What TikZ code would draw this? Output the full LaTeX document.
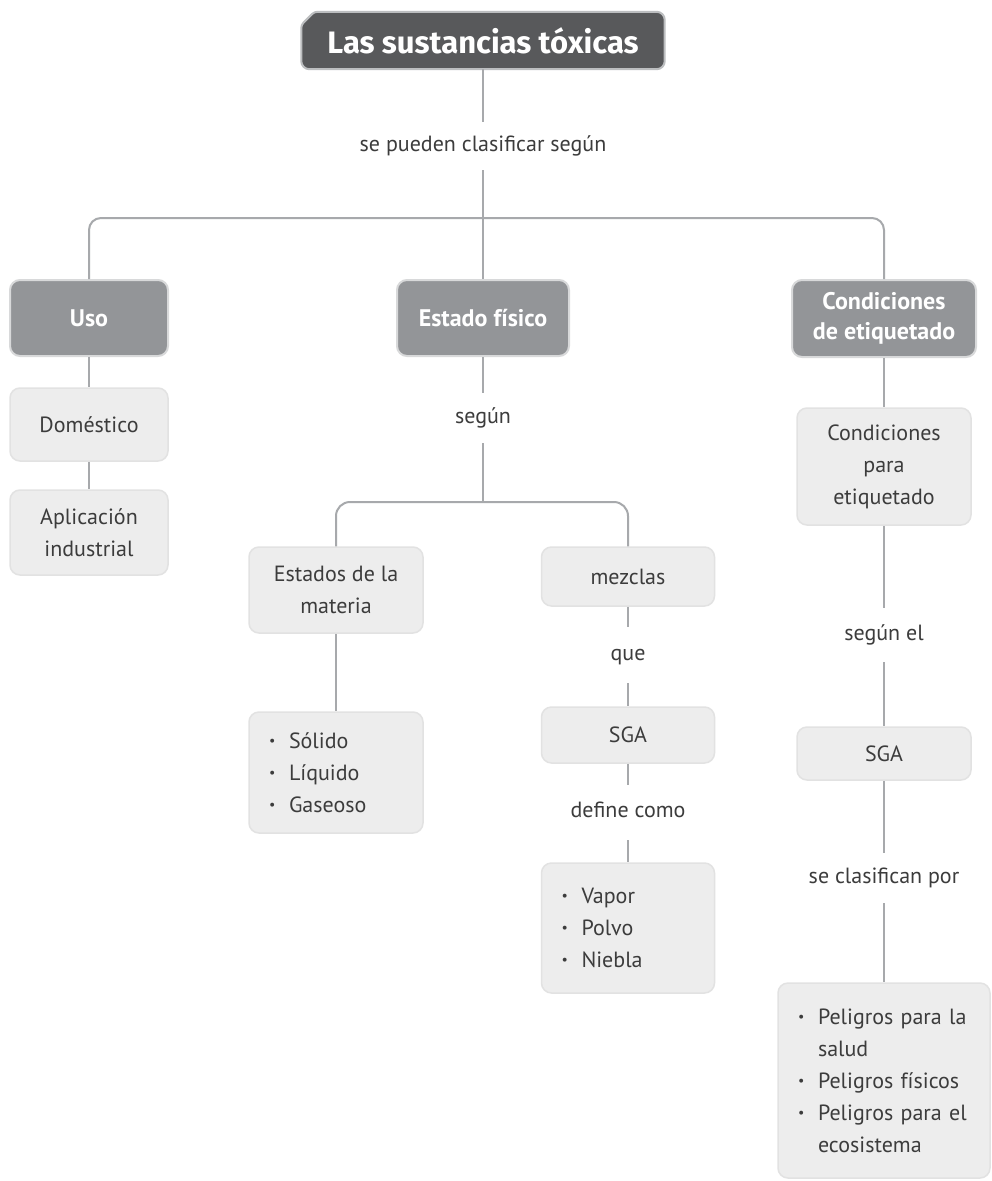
\documentclass[tikz,border=0pt]{standalone}
\usepackage{fontspec}
\setmainfont{PT Sans}
\newfontfamily\titlefont{Fira Sans}
\usetikzlibrary{backgrounds}
\definecolor{titlefill}{HTML}{58595B}
\definecolor{titleline}{HTML}{BCBEC0}
\definecolor{catfill}{HTML}{939598}
\definecolor{catline}{HTML}{D8D9DA}
\definecolor{leaffill}{HTML}{EDEDED}
\definecolor{leafline}{HTML}{E2E2E2}
\definecolor{conncol}{HTML}{A7A9AC}
\definecolor{txt}{HTML}{3C3C3C}
\newcommand\bitem[1]{\makebox[20pt][l]{\raisebox{.12em}{\fontsize{14}{14}\selectfont •}}#1}
\begin{document}
\begin{tikzpicture}[x=1pt,y=-1pt,
  cat/.style={draw=catline, line width=2pt, fill=catfill, rounded corners=10pt, text=white,
    font=\fontsize{24}{30}\selectfont\bfseries, align=center, inner sep=0pt},
  leaf/.style={draw=leafline, line width=1.5pt, fill=leaffill, rounded corners=10pt, text=txt,
    font=\fontsize{22}{32}\selectfont, align=center, inner sep=0pt},
  listbox/.style={leaf, align=left, inner xsep=20pt, inner ysep=0pt},
  lbl/.style={text=txt, font=\fontsize{22}{32}\selectfont, inner sep=0pt, text height=12pt, text depth=2pt},
  conn/.style={draw=conncol, line width=2pt},
  thinconn/.style={draw=conncol, line width=1.2pt}]
\useasboundingbox (0,0) rectangle (991,1181);

% title
\node[font=\titlefont\fontsize{31}{31}\selectfont\bfseries, text=white,
  minimum width=363pt, minimum height=57pt, inner sep=0pt] (title) at (483,40.5) {Las sustancias tóxicas};
\begin{pgfonlayer}{background}
\fill[white] (0,0) rectangle (991,1181);
\filldraw[fill=titlefill, draw=titleline, line width=2pt]
  (title.west) [rounded corners=3pt] -- ([yshift=-13pt]title.north west) -- ([xshift=13pt]title.north west)
  [rounded corners=8pt] -- (title.north east) -- (title.south east) -- (title.south west) -- cycle;
\end{pgfonlayer}

\node[lbl, minimum height=48pt] (l1) at (483,146) {se pueden clasificar según};

% categories
\node[cat, minimum width=158pt, minimum height=76pt] (uso) at (89,318) {Uso};
\node[cat, minimum width=172pt, minimum height=76pt] (estado) at (483,318) {Estado físico};
\node[cat, minimum width=184pt, minimum height=77pt] (cond) at (884,318.5) {Condiciones\\de etiquetado};

% uso column
\node[leaf, minimum width=158pt, minimum height=73pt] (dom) at (89,424.5) {Doméstico};
\node[leaf, minimum width=158pt, minimum height=85pt] (apl) at (89,532.5) {Aplicación\\industrial};

% estado column
\node[lbl, minimum height=50pt] (l2) at (483,418) {según};
\node[leaf, minimum width=174pt, minimum height=86pt] (estados) at (336,590) {Estados de la\\materia};
\node[leaf, minimum width=173pt, minimum height=59pt] (mezclas) at (628,576.5) {mezclas};
\node[listbox, text width=134pt, minimum height=121pt] (solido) at (336,772.5)
  {\bitem{Sólido}\\\bitem{Líquido}\\\bitem{Gaseoso}};
\node[lbl, minimum height=56pt] (l3) at (628,655) {que};
\node[leaf, minimum width=173pt, minimum height=56pt] (sga1) at (628,735) {SGA};
\node[lbl, minimum height=55pt] (l4) at (628,812.5) {define como};
\node[listbox, text width=133pt, minimum height=130pt] (vapor) at (628,928)
  {\bitem{Vapor}\\\bitem{Polvo}\\\bitem{Niebla}};

% condiciones column
\node[leaf, minimum width=174pt, minimum height=117pt] (cpe) at (884,466.5) {Condiciones\\para\\etiquetado};
\node[lbl, minimum height=54pt] (l5) at (884,635) {según el};
\node[leaf, minimum width=174pt, minimum height=53pt] (sga2) at (884,753.5) {SGA};
\node[lbl, minimum height=50pt] (l6) at (884,878) {se clasifican por};
\node[listbox, text width=172pt, minimum height=195pt] (pel) at (884,1080.5)
  {\bitem{Peligros para la}\\\hspace*{20pt}salud\\\bitem{Peligros físicos}\\\bitem{Peligros para el}\\\hspace*{20pt}ecosistema};

% connectors
\draw[thinconn] (title) -- (l1);
\draw[thinconn] (l1) -- (estado);
\draw[conn, rounded corners=12pt] (uso.north) -- (uso.north |- 0,218) -- (cond.north |- 0,218) -- (cond.north);
\draw[conn] (uso) -- (dom);
\draw[conn] (dom) -- (apl);
\draw[conn] (estado) -- (l2);
\draw[conn] (l2.south) -- (l2.south |- 0,502);
\draw[conn, rounded corners=14pt] (estados.north) -- (estados.north |- 0,502) -- (mezclas.north |- 0,502) -- (mezclas.north);
\draw[conn] (estados) -- (solido);
\draw[conn] (mezclas) -- (l3);
\draw[conn] (l3) -- (sga1);
\draw[conn] (sga1) -- (l4);
\draw[conn] (l4) -- (vapor);
\draw[conn] (cond) -- (cpe);
\draw[conn] (cpe) -- (l5);
\draw[conn] (l5) -- (sga2);
\draw[conn] (sga2) -- (l6);
\draw[conn] (l6) -- (pel);
\end{tikzpicture}
\end{document}
